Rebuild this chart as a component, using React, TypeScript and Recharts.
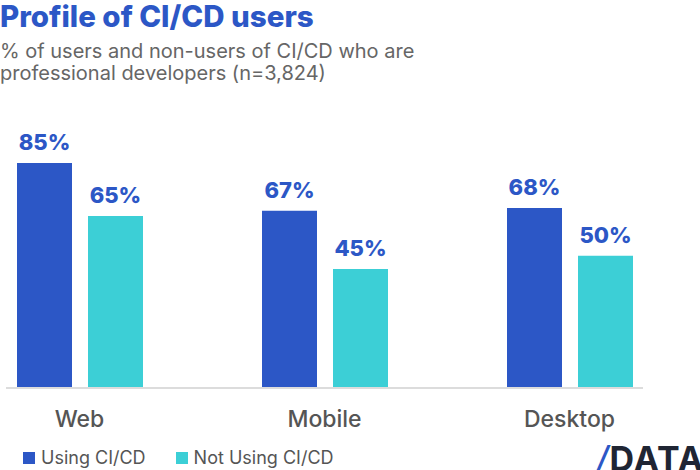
import React from "react";
import { BarChart, Bar, XAxis, YAxis, LabelList, Legend } from "recharts";

const categories = ["Web", "Mobile", "Desktop"];
const usingCICD = [85, 67, 68];
const notUsingCICD = [65, 45, 50];
const seriesNames = ["Using CI/CD", "Not Using CI/CD"];

const BLUE = "#2c57c6";
const CYAN = "#3ccfd6";
const FONT = "Inter, 'Open Sans', sans-serif";

const data = categories.map((c, i) => ({
  name: c,
  using: usingCICD[i],
  notUsing: notUsingCICD[i],
}));

const renderLegend = () => (
  <div style={{ display: "flex", alignItems: "center", fontFamily: FONT, fontSize: 18, color: "#555", lineHeight: "20px" }}>
    {[BLUE, CYAN].map((col, i) => (
      <div key={i} style={{ display: "flex", alignItems: "center", marginRight: i === 0 ? 30 : 0 }}>
        <div style={{ width: 12, height: 12, background: col, marginRight: 6 }} />
        <span>{seriesNames[i]}</span>
      </div>
    ))}
  </div>
);

export default function App() {
  return (
    <div style={{ position: "absolute", left: 0, top: 0, width: 700, height: 470, overflow: "hidden", background: "#fff" }}>
      <div style={{ position: "absolute", left: 0, top: 0, fontFamily: FONT, fontWeight: 800, fontSize: 29.5, lineHeight: "32px", color: BLUE, whiteSpace: "nowrap" }}>
        Profile of CI/CD users
      </div>
      <div style={{ position: "absolute", left: 0, top: 39.5, fontFamily: FONT, fontWeight: 400, fontSize: 20, lineHeight: "22.5px", color: "#666", whiteSpace: "nowrap" }}>
        % of users and non-users of CI/CD who are
        <br />
        professional developers (n=3,824)
      </div>
      <div style={{ position: "absolute", left: 0, top: 0 }}>
        <BarChart
          width={700}
          height={470}
          data={data}
          margin={{ top: 123.3, right: 57, bottom: 42, left: 6 }}
          barSize={55}
          barGap={16}
        >
          <XAxis
            dataKey="name"
            padding={{ left: -49, right: -49 }}
            tickLine={false}
            axisLine={{ stroke: "#dcdcdc", strokeWidth: 2 }}
            tickMargin={17}
            height={40}
            tick={{ fill: "#555", fontSize: 23, fontFamily: FONT, fontWeight: 500 }}
            interval={0}
          />
          <YAxis hide domain={[0, 100]} />
          <Legend
            layout="horizontal"
            verticalAlign="middle"
            align="center"
            content={renderLegend}
            wrapperStyle={{ left: 23, top: 448, width: "auto" }}
          />
          <Bar dataKey="using" name={seriesNames[0]} fill={BLUE} isAnimationActive={false}>
            <LabelList dataKey="using" position="top" offset={13} formatter={(v: number) => `${v}%`} fill={BLUE} fontSize={22} fontWeight={800} fontFamily={FONT} />
          </Bar>
          <Bar dataKey="notUsing" name={seriesNames[1]} fill={CYAN} isAnimationActive={false}>
            <LabelList dataKey="notUsing" position="top" offset={13} formatter={(v: number) => `${v}%`} fill={BLUE} fontSize={22} fontWeight={800} fontFamily={FONT} />
          </Bar>
        </BarChart>
      </div>
      <div style={{ position: "absolute", left: 596, top: 442.4, fontFamily: FONT, fontWeight: 700, fontSize: 34, lineHeight: "34px", color: "#1f2533", whiteSpace: "nowrap", letterSpacing: 1 }}>
        <span style={{ color: BLUE, fontStyle: "italic", fontWeight: 500 }}>/</span>DATA
      </div>
    </div>
  );
}
